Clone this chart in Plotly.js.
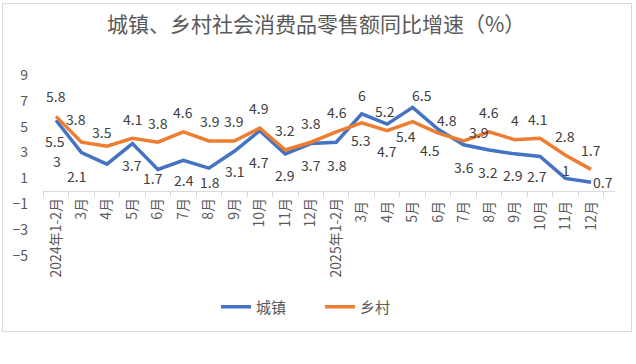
<!DOCTYPE html>
<html>
<head>
<meta charset="utf-8">
<script src="https://cdn.plot.ly/plotly-3.0.1.min.js"></script>
<style>
html,body{margin:0;padding:0;background:#fff;}
#chart{width:636px;height:364px;position:absolute;left:0;top:0;}
#frame{position:absolute;left:2px;top:3px;width:630px;height:329px;box-sizing:border-box;border:1px solid #d9d9d9;pointer-events:none;}
</style>
</head>
<body>
<div id="chart"></div>
<div id="frame"></div>
<script>
// ---- data ----
const categories = ["2024年1-2月","3月","4月","5月","6月","7月","8月","9月","10月","11月","12月",
                    "2025年1-2月","3月 ","4月 ","5月 ","6月 ","7月 ","8月 ","9月 ","10月 ","11月 ","12月 "];
const urban = [5.5, 3, 2.1, 3.7, 1.7, 2.4, 1.8, 3.1, 4.7, 2.9, 3.7, 3.8, 6, 5.2, 6.5, 4.8, 3.6, 3.2, 2.9, 2.7, 1, 0.7];
const rural = [5.8, 3.8, 3.5, 4.1, 3.8, 4.6, 3.9, 3.9, 4.9, 3.2, 3.8, 4.6, 5.3, 4.7, 5.4, 4.5, 3.9, 4.6, 4, 4.1, 2.8, 1.7];
const seriesNames = ["城镇", "乡村"];
const yTicks = [-5, -3, -1, 1, 3, 5, 7, 9];
const yRange = [-5, 9];

// ---- label placement (pixel offsets of value labels from their points: [dx, dy], dy down) ----
const urbanLabelOffset = [[-1,21],[-24,8],[-30,12],[0,21],[-5,9],[1,20],[1,14],[0,20],[-1,31],[0,21],[0,21],
                          [1,23],[0,-19],[-2,-13],[9,-12],[9,-9],[0,22],[-1,22],[-2,21],[-3,20],[0,-8],[12,0]];
const ruralLabelOffset = [[0,-20],[-5,-23],[-5,-14],[0,-19],[0,-19],[0,-20],[1,-20],[0,-20],[-1,-20],[0,-20],[0,-19],
                          [1,-20],[-1,17],[0,20],[-7,14],[-8,17],[15,-9],[0,-20],[0,-20],[-3,-19],[-1,-19],[0,-19]];

const blue = "#4472C4", orange = "#ED7D31";
const labelFont = {family: "Noto Sans CJK SC, sans-serif", size: 14, color: "#404040"};

function makeLabels(vals, offs) {
  return vals.map((v, i) => ({
    x: categories[i], y: v, xref: "x", yref: "y",
    text: String(v), showarrow: false,
    xanchor: "center", yanchor: "middle",
    xshift: offs[i][0], yshift: -offs[i][1],
    font: labelFont
  }));
}

const traces = [
  {x: categories, y: urban, name: seriesNames[0], type: "scatter", mode: "lines",
   line: {color: blue, width: 3.5}},
  {x: categories, y: rural, name: seriesNames[1], type: "scatter", mode: "lines",
   line: {color: orange, width: 3.5}}
];

const layout = {
  width: 636, height: 364,
  margin: {l: 43, r: 21, t: 75, b: 108},
  paper_bgcolor: "#fff", plot_bgcolor: "#fff",
  title: {text: "城镇、乡村社会消费品零售额同比增速（%）",
          font: {family: "Noto Sans CJK SC, sans-serif", size: 21, color: "#595959"},
          x: 0.497, xanchor: "center", y: 1 - 25/364, yanchor: "middle", yref: "container"},
  showlegend: true,
  legend: {orientation: "h", x: (216 - 43) / 572, xanchor: "left", y: 1 - 307/364, yanchor: "middle",
           yref: "container",
           font: {family: "Noto Sans CJK SC, sans-serif", size: 15, color: "#595959"},
           itemwidth: 30, entrywidth: 59, traceorder: "normal"},
  xaxis: {type: "category", anchor: "free",
          position: (0 - yRange[0]) / (yRange[1] - yRange[0]),
          showline: true, linecolor: "#d9d9d9", linewidth: 1,
          ticks: "outside", tickson: "boundaries", ticklen: 5, tickcolor: "#d9d9d9", tickwidth: 1,
          tickangle: -90, showgrid: false, zeroline: false,
          tickfont: {family: "Noto Sans CJK SC, sans-serif", size: 14, color: "#595959"}},
  yaxis: {range: yRange, tickvals: yTicks, showgrid: false, zeroline: false, showline: false,
          ticks: "", ticklabelstandoff: 14,
          tickfont: {family: "Noto Sans CJK SC, sans-serif", size: 14, color: "#595959"}},
  annotations: makeLabels(urban, urbanLabelOffset).concat(makeLabels(rural, ruralLabelOffset))
};

Plotly.newPlot("chart", traces, layout, {staticPlot: true, displayModeBar: false});
</script>
</body>
</html>
